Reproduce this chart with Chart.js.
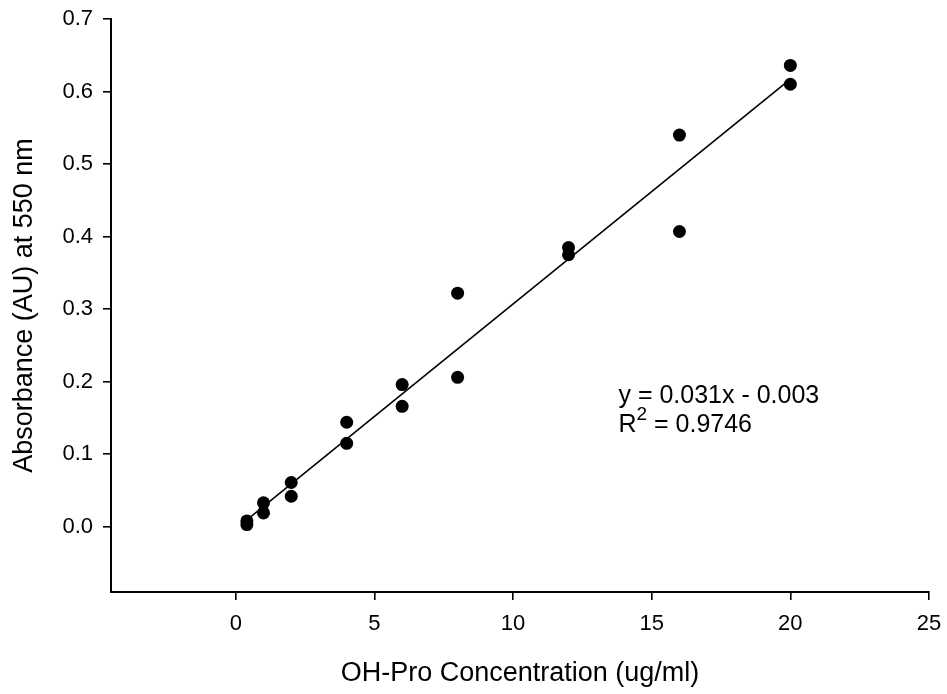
<!DOCTYPE html>
<html>
<head>
<meta charset="utf-8">
<script src="https://cdn.jsdelivr.net/npm/chart.js@4/dist/chart.umd.min.js"></script>
<style>
  html, body { margin: 0; padding: 0; background: #fff; }
  #wrap { width: 947px; height: 694px; position: relative; }
</style>
</head>
<body>
<div id="wrap"><canvas id="c" width="947" height="694"></canvas></div>
<script>
// ---- data ----
const concX = [0.4, 0.4, 1, 1, 2, 2, 4, 4, 6, 6, 8, 8, 12, 12, 16, 16, 20, 20];
const absorbY = [0.008, 0.003, 0.033, 0.019, 0.061, 0.042, 0.144, 0.115, 0.196, 0.166,
                 0.322, 0.206, 0.385, 0.375, 0.540, 0.407, 0.636, 0.610];
const fitX = [0.4, 20];
const fitY = [0.0094, 0.617];
const xTickValues = [0, 5, 10, 15, 20, 25];
const yTickValues = [0.0, 0.1, 0.2, 0.3, 0.4, 0.5, 0.6, 0.7];
const xTitle = 'OH-Pro Concentration (ug/ml)';
const yTitle = 'Absorbance (AU) at 550 nm';
const eqLine1 = 'y = 0.031x - 0.003';
const eqR = 'R';
const eqSup = '2';
const eqLine2 = ' = 0.9746';

const FONT = '"Liberation Sans", Arial, Helvetica, sans-serif';

const scatterPts = concX.map((x, i) => ({ x: x, y: absorbY[i] }));
const fitPts = fitX.map((x, i) => ({ x: x, y: fitY[i] }));

const annotationPlugin = {
  id: 'eqText',
  afterDraw(chart) {
    const ctx = chart.ctx;
    const xs = chart.scales.x, ys = chart.scales.y;
    const left = xs.getPixelForValue(13.8);
    const base1 = ys.getPixelForValue(0.171);
    const base2 = ys.getPixelForValue(0.130);
    ctx.save();
    ctx.fillStyle = '#000';
    ctx.textBaseline = 'alphabetic';
    ctx.textAlign = 'left';
    ctx.font = '25px ' + FONT;
    ctx.fillText(eqLine1, left, base1);
    ctx.fillText(eqR, left, base2);
    const rW = ctx.measureText(eqR).width;
    ctx.font = '19px ' + FONT;
    ctx.fillText(eqSup, left + rW, base2 - 12);
    const sW = ctx.measureText(eqSup).width;
    ctx.font = '25px ' + FONT;
    ctx.fillText(eqLine2, left + rW + sW, base2);
    ctx.restore();
  }
};

new Chart(document.getElementById('c'), {
  type: 'scatter',
  data: {
    datasets: [
      {
        type: 'line',
        data: fitPts,
        borderColor: '#000',
        borderWidth: 1.6,
        pointRadius: 0,
        fill: false,
        order: 2
      },
      {
        type: 'scatter',
        data: scatterPts,
        backgroundColor: '#000',
        borderColor: '#000',
        borderWidth: 0,
        pointRadius: 6.5,
        order: 1
      }
    ]
  },
  options: {
    responsive: false,
    animation: false,
    events: [],
    layout: { padding: { top: 19, right: 18, left: 0, bottom: 0 } },
    plugins: { legend: { display: false }, tooltip: { enabled: false } },
    scales: {
      x: {
        type: 'linear',
        min: -4.5,
        max: 25,
        afterBuildTicks: (s) => { s.ticks = xTickValues.map(v => ({ value: v })); },
        afterFit: (s) => { s.height = 102; s.paddingLeft = 0; s.paddingRight = 0; },
        ticks: {
          color: '#000',
          font: { family: FONT, size: 22 },
          padding: 11,
          maxRotation: 0,
          callback: (v) => String(v)
        },
        grid: { drawOnChartArea: false, drawTicks: true, tickLength: 8, color: '#000', lineWidth: 1.6 },
        border: { display: true, color: '#000', width: 2 },
        title: {
          display: true,
          text: xTitle,
          color: '#000',
          font: { family: FONT, size: 27 },
          padding: { top: 0, bottom: 4 }
        }
      },
      y: {
        type: 'linear',
        min: -0.09,
        max: 0.7,
        afterBuildTicks: (s) => { s.ticks = yTickValues.map(v => ({ value: v })); },
        afterFit: (s) => { s.width = 111; s.paddingTop = 0; s.paddingBottom = 0; },
        ticks: {
          color: '#000',
          font: { family: FONT, size: 22 },
          padding: 10,
          callback: (v) => Number(v).toFixed(1)
        },
        grid: { drawOnChartArea: false, drawTicks: true, tickLength: 8, color: '#000', lineWidth: 1.6 },
        border: { display: true, color: '#000', width: 2 },
        title: {
          display: true,
          text: yTitle,
          color: '#000',
          font: { family: FONT, size: 27 },
          padding: { top: 8, bottom: 0 }
        }
      }
    }
  },
  plugins: [annotationPlugin]
});
</script>
</body>
</html>
